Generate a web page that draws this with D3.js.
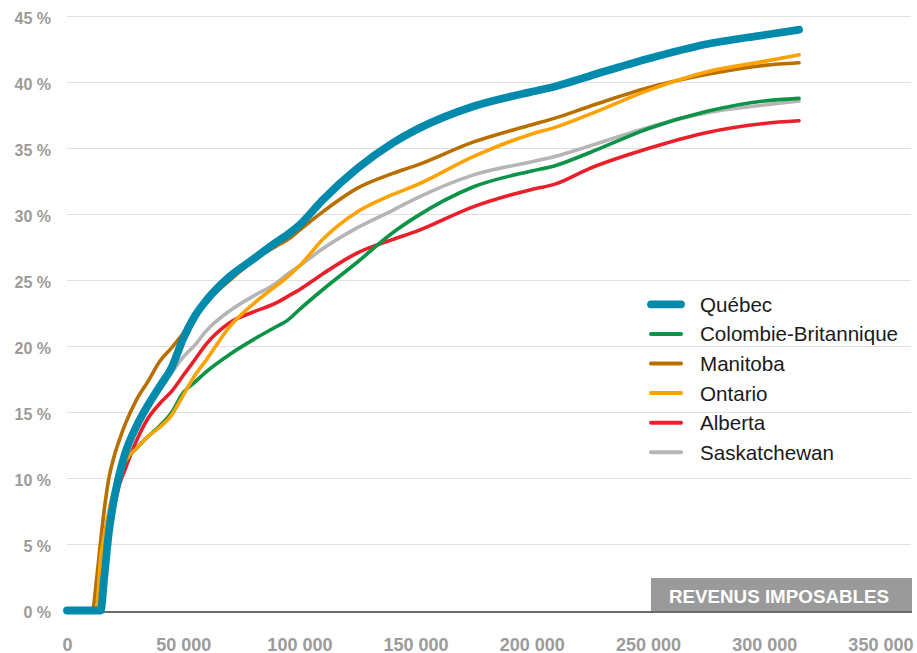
<!DOCTYPE html>
<html>
<head>
<meta charset="utf-8">
<script src="https://cdn.jsdelivr.net/npm/d3@7"></script>
<style>
  html, body { margin: 0; padding: 0; background: #ffffff; }
  svg { display: block; }
</style>
</head>
<body>
<svg id="chart" width="917" height="653"></svg>
<script>
// ---------- DATA ----------
const incomes = [0, 11000, 12500, 14500, 16000, 18000, 20000, 22500, 25000, 30000, 35000, 40000, 45000, 50000, 55000, 60000, 70000, 80000, 90000, 95000, 100000, 110000, 125000, 140000, 150000, 175000, 200000, 210000, 225000, 250000, 275000, 300000, 315000];

const quebec       = [0, 0, 0, 0, 2.5, 5.9, 8.2, 10.3, 11.9, 14.0, 15.6, 17.0, 18.4, 20.6, 22.3, 23.5, 25.3, 26.6, 27.9, 28.5, 29.2, 31.1, 33.5, 35.4, 36.4, 38.2, 39.3, 39.7, 40.5, 41.8, 42.9, 43.6, 44.0];
const colombieBrit = [0, 0, 0, 0, 2.4, 5.6, 7.9, 9.9, 11.2, 12.3, 13.2, 14.0, 15.0, 16.5, 17.3, 18.1, 19.4, 20.5, 21.5, 22.0, 22.8, 24.3, 26.4, 28.6, 29.8, 32.1, 33.3, 33.7, 34.7, 36.5, 37.8, 38.6, 38.8];
const manitoba     = [0, 0, 2.0, 5.3, 7.6, 10.0, 11.5, 12.9, 14.1, 16.0, 17.4, 18.9, 19.9, 21.0, 22.3, 23.4, 25.0, 26.5, 27.6, 28.1, 28.8, 30.2, 32.0, 33.1, 33.7, 35.5, 36.8, 37.3, 38.2, 39.6, 40.6, 41.3, 41.5];
const ontario      = [0, 0, 0, 4.0, 5.7, 7.5, 9.0, 10.3, 11.3, 12.3, 13.2, 13.9, 14.8, 16.3, 17.8, 19.0, 21.5, 23.2, 24.6, 25.3, 26.1, 28.1, 30.2, 31.5, 32.2, 34.4, 36.1, 36.6, 37.6, 39.4, 40.8, 41.6, 42.1];
const alberta      = [0, 0, 0, 0, 2.3, 5.4, 7.6, 9.5, 10.7, 12.9, 14.6, 15.7, 16.6, 17.8, 19.0, 20.2, 21.8, 22.6, 23.3, 23.8, 24.3, 25.5, 27.1, 28.1, 28.7, 30.6, 31.9, 32.3, 33.5, 35.0, 36.2, 36.9, 37.1];
const saskatchewan = [0, 0, 0, 0, 2.5, 5.7, 8.0, 10.1, 11.7, 13.8, 15.3, 16.7, 18.0, 19.2, 20.1, 21.2, 22.7, 23.8, 24.8, 25.5, 26.1, 27.4, 29.0, 30.3, 31.2, 33.0, 34.0, 34.4, 35.2, 36.6, 37.7, 38.3, 38.6];

const seriesNames  = ["Québec", "Colombie-Britannique", "Manitoba", "Ontario", "Alberta", "Saskatchewan"];
const seriesValues = [quebec, colombieBrit, manitoba, ontario, alberta, saskatchewan];

const xTicks = [0, 50000, 100000, 150000, 200000, 250000, 300000, 350000];
const yTicks = [0, 5, 10, 15, 20, 25, 30, 35, 40, 45];
const axisTitle = "REVENUS IMPOSABLES";

// ---------- STYLE ----------
const colors = {
  "Québec": "#008aab",
  "Colombie-Britannique": "#0b9347",
  "Manitoba": "#b86f00",
  "Ontario": "#fda200",
  "Alberta": "#ea1f2a",
  "Saskatchewan": "#b5b5b5"
};
const widths = { "Québec": 7.8 };
const drawOrder = ["Saskatchewan", "Alberta", "Colombie-Britannique", "Manitoba", "Ontario", "Québec"];

// ---------- CHART ----------
const svg = d3.select("#chart");
const FONT = "'Liberation Sans', Arial, Helvetica, sans-serif";

const x = d3.scaleLinear().domain([0, 350000]).range([67, 880.4]);
const y = d3.scaleLinear().domain([0, 45]).range([610.5, 16.5]);

// gridlines
const grid = svg.append("g");
grid.selectAll("line").data(yTicks.filter(d => d > 0)).enter().append("line")
  .attr("x1", 67).attr("x2", 911)
  .attr("y1", d => y(d)).attr("y2", d => y(d))
  .attr("stroke", "#e0e0e0").attr("stroke-width", 1.2);

// baseline
svg.append("line")
  .attr("x1", 67).attr("x2", 912)
  .attr("y1", y(0) + 1.5).attr("y2", y(0) + 1.5)
  .attr("stroke", "#3a3a3a").attr("stroke-width", 1.6);

// y axis labels
const yAxis = d3.axisLeft(y).tickValues(yTicks).tickSize(0).tickPadding(0)
  .tickFormat(d => d + " %");
const gy = svg.append("g").attr("transform", "translate(51,0)").call(yAxis);
gy.select(".domain").remove();
gy.selectAll("text")
  .attr("font-family", FONT).attr("font-weight", "bold").attr("font-size", 16)
  .attr("fill", "#9b9b9b").attr("dy", "0.72em").attr("y", -5);

// x axis labels
const xAxis = d3.axisBottom(x).tickValues(xTicks).tickSize(0).tickPadding(0)
  .tickFormat(d => d3.format(",")(d).replace(/,/g, " "));
const gx = svg.append("g").attr("transform", "translate(0,637)").call(xAxis);
gx.select(".domain").remove();
gx.selectAll("text")
  .attr("font-family", FONT).attr("font-weight", "bold").attr("font-size", 18)
  .attr("fill", "#9b9b9b").attr("dy", "0").attr("y", 13.5);

// axis title box
svg.append("rect")
  .attr("x", 651).attr("y", 578).attr("width", 261).attr("height", 33)
  .attr("fill", "#9a9a9a");
svg.append("text")
  .attr("x", 779).attr("y", 603)
  .attr("text-anchor", "middle")
  .attr("font-family", FONT).attr("font-weight", "bold").attr("font-size", 18.8)
  .attr("fill", "#ffffff")
  .text(axisTitle);

// lines
const line = d3.line()
  .x(d => x(d[0]))
  .y(d => y(d[1]))
  .curve(d3.curveMonotoneX);

const lines = svg.append("g");
drawOrder.forEach(name => {
  const vals = seriesValues[seriesNames.indexOf(name)];
  const pts = incomes.map((inc, i) => [inc, vals[i]]);
  lines.append("path")
    .attr("d", line(pts))
    .attr("fill", "none")
    .attr("stroke", colors[name])
    .attr("stroke-width", widths[name] || 3.6)
    .attr("stroke-linecap", "round")
    .attr("stroke-linejoin", "round");
});

// legend
const legend = svg.append("g");
seriesNames.forEach((name, i) => {
  const cy = 304.3 + i * 29.6;
  legend.append("line")
    .attr("x1", 651).attr("x2", 681)
    .attr("y1", cy).attr("y2", cy)
    .attr("stroke", colors[name])
    .attr("stroke-width", widths[name] || 4)
    .attr("stroke-linecap", "round");
  legend.append("text")
    .attr("x", 700).attr("y", cy + 7.5)
    .attr("font-family", FONT).attr("font-size", 20.6)
    .attr("fill", "#1a1a1a")
    .text(name);
});
</script>
</body>
</html>
